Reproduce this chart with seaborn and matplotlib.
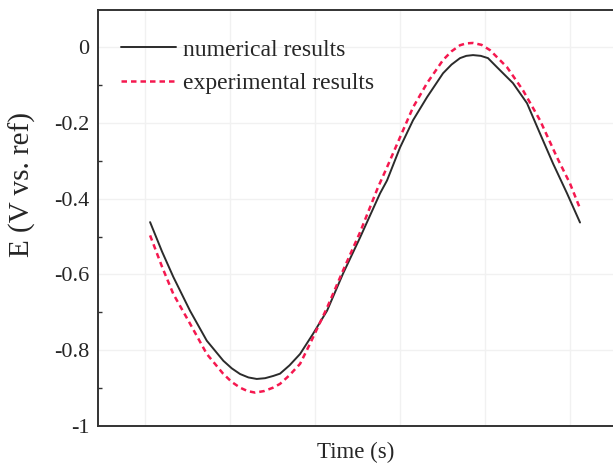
import numpy as np
import pandas as pd
import matplotlib
matplotlib.use("Agg")
import matplotlib.pyplot as plt
import seaborn as sns

# Data (time in arbitrary grid units)
t_num = [0.059, 0.200, 0.333, 0.529, 0.726, 0.921, 1.020, 1.118, 1.216, 1.314, 1.412, 1.509,
         1.588, 1.700, 1.824, 1.976, 2.141, 2.329, 2.529, 2.765, 2.847, 3.000, 3.153,
         3.318, 3.506, 3.606, 3.706, 3.780, 3.859, 3.950, 4.035, 4.141, 4.329, 4.494,
         4.647, 4.800, 4.965, 5.118]
e_num = [-0.462, -0.540, -0.607, -0.696, -0.775, -0.828, -0.848, -0.863, -0.872, -0.876, -0.874, -0.868,
         -0.862, -0.840, -0.810, -0.757, -0.696, -0.598, -0.503, -0.386, -0.352, -0.265, -0.193,
         -0.132, -0.069, -0.046, -0.029, -0.023, -0.021, -0.023, -0.029, -0.053, -0.095, -0.148,
         -0.228, -0.307, -0.386, -0.463]

t_exp = [0.059, 0.200, 0.333, 0.529, 0.726, 0.918, 1.020, 1.118, 1.206, 1.294, 1.400, 1.506,
         1.588, 1.700, 1.824, 1.941, 2.141, 2.329, 2.529, 2.741, 2.847, 3.000, 3.153,
         3.318, 3.506, 3.606, 3.706, 3.780, 3.859, 3.960, 4.059, 4.259, 4.447, 4.647,
         4.847, 5.000, 5.118]
e_exp = [-0.497, -0.580, -0.652, -0.730, -0.810, -0.862, -0.884, -0.899, -0.908, -0.912, -0.908, -0.899,
         -0.889, -0.866, -0.836, -0.783, -0.688, -0.590, -0.489, -0.370, -0.317, -0.238, -0.159,
         -0.095, -0.034, -0.011, 0.005, 0.010, 0.011, 0.006, -0.008, -0.053, -0.114, -0.193,
         -0.291, -0.360, -0.426]

y_ticks = [0, -0.2, -0.4, -0.6, -0.8, -1]
y_tick_labels = ["0", "-0.2", "-0.4", "-0.6", "-0.8", "-1"]
labels = ["numerical results", "experimental results"]

sns.set_style("white")
plt.rcParams['font.family'] = ['Liberation Serif', 'DejaVu Serif']

fig = plt.figure(figsize=(6.13, 4.66), dpi=100)
ax = fig.add_axes([0.16, 0.086, 0.84, 0.8925])

df_num = pd.DataFrame({"t": t_num, "E": e_num})
df_exp = pd.DataFrame({"t": t_exp, "E": e_exp})

sns.lineplot(data=df_num, x="t", y="E", ax=ax, sort=False, color="#2b2b2b",
             linewidth=1.4, label=labels[0])
sns.lineplot(data=df_exp, x="t", y="E", ax=ax, sort=False, color="#f5184f",
             linewidth=1.8, linestyle=(0, (2.2, 1.6)), label=labels[1])

ax.set_xlim(-0.553, 5.506)
ax.set_ylim(-1, 0.098)

ax.set_yticks(y_ticks)
ax.set_yticklabels(y_tick_labels)
ax.set_yticks([-0.1, -0.3, -0.5, -0.7, -0.9], minor=True)
ax.set_xticks(range(0, 6))
ax.set_xticklabels([])
ax.tick_params(axis='y', which='major', direction='in', length=6, width=1,
               labelsize=16, color='#333333', pad=6)
ax.tick_params(axis='y', which='minor', direction='in', length=3, width=1,
               color='#333333', left=True)
ax.tick_params(axis='x', which='both', length=0)

ax.grid(True, color="#f1f1f1", linewidth=1.0)
ax.set_axisbelow(True)

for side in ["left", "bottom", "top"]:
    ax.spines[side].set_color("#333333")
    ax.spines[side].set_linewidth(1.4)
ax.spines["right"].set_visible(False)

ax.set_xlabel("Time (s)", fontsize=16.5, labelpad=8)
ax.set_ylabel("E (V vs. ref)", fontsize=21)
ax.yaxis.set_label_coords(-0.12, 0.58)

leg = ax.legend(loc="upper left", frameon=False, fontsize=17,
                handlelength=2.35, handletextpad=0.3, labelspacing=0.5,
                borderaxespad=0.3, bbox_to_anchor=(0.012, 0.97))

fig.savefig("out.png", dpi=100)
